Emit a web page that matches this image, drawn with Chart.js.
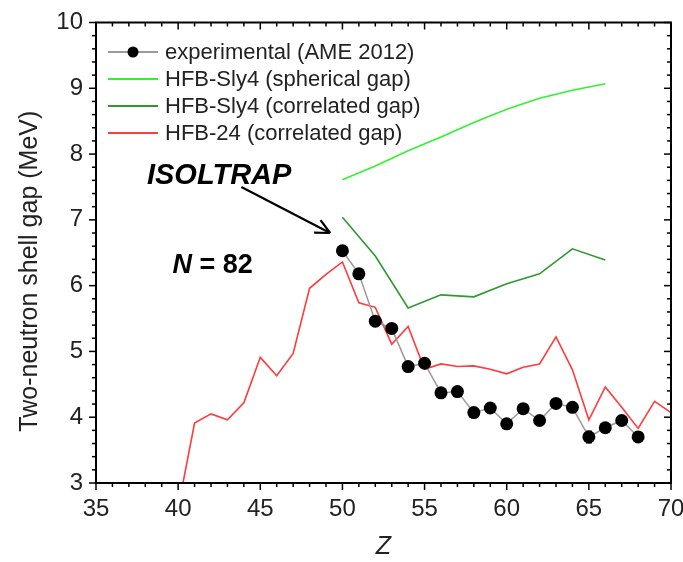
<!DOCTYPE html>
<html><head><meta charset="utf-8">
<script src="https://cdn.jsdelivr.net/npm/chart.js@4/dist/chart.umd.min.js"></script>
<style>html,body{margin:0;padding:0;background:#fff}</style>
</head><body>
<canvas id="c" width="683" height="562"></canvas>
<script>
// ---- data ----
const expZ   = [50,51,52,53,54,55,56,57,58,59,60,61,62,63,64,65,66,67,68];
const expGap = [6.53,6.18,5.46,5.35,4.77,4.82,4.37,4.39,4.07,4.14,3.90,4.13,3.95,4.21,4.15,3.70,3.84,3.95,3.70];
const expErr = [0,0,0,0,0,0,0,0,0,0,0,0,0,0,0,0.09,0,0,0];
const slyZ = [50,52,54,56,58,60,62,64,66];
const slySpherical  = [7.61,7.82,8.05,8.26,8.48,8.68,8.85,8.97,9.07];
const slyCorrelated = [7.04,6.45,5.66,5.86,5.83,6.03,6.18,6.56,6.39];
const hfb24Z = [40,41,42,43,44,45,46,47,48,49,50,51,52,53,54,55,56,57,58,59,60,61,62,63,64,65,66,67,68,69,70];
const hfb24Gap = [2.62,3.91,4.05,3.96,4.22,4.91,4.63,4.97,5.96,6.17,6.36,5.74,5.67,5.11,5.38,4.73,4.81,4.77,4.78,4.73,4.66,4.76,4.81,5.22,4.72,3.96,4.46,4.15,3.83,4.24,4.07];
const xTicks = [35,40,45,50,55,60,65,70];
const yTicks = [3,4,5,6,7,8,9,10];
const seriesLabels = ['experimental (AME 2012)','HFB-Sly4 (spherical gap)','HFB-Sly4 (correlated gap)','HFB-24 (correlated gap)'];
const yAxisTitle = 'Two-neutron shell gap (MeV)';
const xAxisTitle = 'Z';

const FONT = "'Liberation Sans', Arial, Helvetica, sans-serif";
Chart.defaults.font.family = FONT;

const pts = (xs, ys) => xs.map((v,i)=>({x:v, y:ys[i]}));

const datasets = [
  {label: seriesLabels[3], data: pts(hfb24Z,hfb24Gap), borderColor:'#ff3b3b', borderWidth:1.6, pointRadius:0, order:4},
  {label: seriesLabels[2], data: pts(slyZ,slyCorrelated), borderColor:'#2e9a2e', borderWidth:1.6, pointRadius:0, order:3},
  {label: seriesLabels[1], data: pts(slyZ,slySpherical), borderColor:'#33f033', borderWidth:1.6, pointRadius:0, order:2},
  {label: seriesLabels[0], data: pts(expZ,expGap), borderColor:'#9a9a9a', borderWidth:1.5,
   pointRadius:6.5, pointBackgroundColor:'#000', pointBorderColor:'#000', pointBorderWidth:0, order:1}
];

const annot = {
  isoltrap: {text:'ISOLTRAP', z:38.1, v:7.66},
  arrowFrom: {z:43.85, v:7.50}, arrowTo: {z:49.25, v:6.80},
  n82: {z:39.65, v:6.31},
  yTitleAt: 6.22
};

const decor = {
  id:'decor',
  beforeDatasetsDraw(chart){
    const {ctx, scales:{x,y}} = chart;
    ctx.save(); ctx.strokeStyle='#000'; ctx.lineWidth=1.2;
    expZ.forEach((z,i)=>{ if(expErr[i]>0){
      const px=x.getPixelForValue(z), y1=y.getPixelForValue(expGap[i]-expErr[i]), y2=y.getPixelForValue(expGap[i]+expErr[i]);
      ctx.beginPath(); ctx.moveTo(px,y1); ctx.lineTo(px,y2);
      ctx.moveTo(px-3,y1); ctx.lineTo(px+3,y1); ctx.moveTo(px-3,y2); ctx.lineTo(px+3,y2); ctx.stroke(); }});
    ctx.restore();
  },
  afterDraw(chart){
    const {ctx, chartArea:a, scales:{x,y}} = chart;
    const line=(x1,y1,x2,y2)=>{ctx.beginPath();ctx.moveTo(x1,y1);ctx.lineTo(x2,y2);ctx.stroke();};
    ctx.save();
    ctx.strokeStyle='#000';
    ctx.lineWidth=1.5;
    for(let v=35; v<=70; v++){
      const px=x.getPixelForValue(v); const L=(v%5===0)?7:4;
      line(px,a.bottom,px,a.bottom+L);
      line(px,a.top,px,a.top+L);
    }
    for(let i=0;i<=35;i++){
      const py=y.getPixelForValue(3+i*0.2); const L=(i%5===0)?7:4;
      line(a.left-L,py,a.left,py);
      line(a.right-L,py,a.right,py);
    }
    ctx.lineWidth=2;
    ctx.strokeRect(a.left,a.top,a.right-a.left,a.bottom-a.top);

    // y axis title
    ctx.save();
    ctx.translate(30, y.getPixelForValue(annot.yTitleAt));
    ctx.rotate(-Math.PI/2);
    ctx.font = "25px "+FONT; ctx.fillStyle='#222'; ctx.textAlign='center'; ctx.textBaseline='middle';
    ctx.fillText(yAxisTitle, 0, 0);
    ctx.restore();

    // legend
    const ds = chart.data.datasets;
    const order = [3,2,1,0];
    const rowY=[52,79,106,133];
    ctx.font = "22px "+FONT; ctx.textBaseline='middle'; ctx.textAlign='left';
    order.forEach((di,r)=>{
      const d=ds[di]; const yy=rowY[r];
      ctx.strokeStyle=d.borderColor; ctx.lineWidth=d.borderWidth+0.3;
      line(108,yy,158,yy);
      if(d.pointRadius>0){ctx.fillStyle='#000';ctx.beginPath();ctx.arc(133,yy,5.5,0,Math.PI*2);ctx.fill();}
      ctx.fillStyle='#222';
      ctx.fillText(d.label,165,yy+1);
    });

    // annotations
    ctx.fillStyle='#000';
    ctx.font = "italic bold 29px "+FONT;
    ctx.fillText(annot.isoltrap.text, x.getPixelForValue(annot.isoltrap.z), y.getPixelForValue(annot.isoltrap.v));
    const ax1=x.getPixelForValue(annot.arrowFrom.z), ay1=y.getPixelForValue(annot.arrowFrom.v);
    const ax2=x.getPixelForValue(annot.arrowTo.z), ay2=y.getPixelForValue(annot.arrowTo.v);
    ctx.strokeStyle='#000'; ctx.lineWidth=2.2;
    line(ax1,ay1,ax2,ay2);
    const ang=Math.atan2(ay2-ay1,ax2-ax1), h=16;
    line(ax2,ay2,ax2-h*Math.cos(ang-0.45),ay2-h*Math.sin(ang-0.45));
    line(ax2,ay2,ax2-h*Math.cos(ang+0.45),ay2-h*Math.sin(ang+0.45));
    const nx=x.getPixelForValue(annot.n82.z), ny=y.getPixelForValue(annot.n82.v);
    ctx.font = "italic bold 27px "+FONT;
    ctx.fillText('N', nx, ny);
    const w=ctx.measureText('N').width;
    ctx.font = "bold 27px "+FONT;
    ctx.fillText(' = 82', nx+w, ny);
    ctx.restore();
  }
};

new Chart(document.getElementById('c'), {
  type:'line',
  data:{datasets},
  options:{
    responsive:false, animation:false, devicePixelRatio:1,
    layout:{padding:{top:22.5,right:12,left:0,bottom:0}},
    plugins:{legend:{display:false}, tooltip:{enabled:false}},
    elements:{line:{tension:0}},
    scales:{
      x:{type:'linear', min:35, max:70,
         afterBuildTicks: s=>{s.ticks = xTicks.map(v=>({value:v}));},
         ticks:{font:{size:24}, color:'#222', padding:12, maxRotation:0},
         grid:{display:false, drawTicks:false}, border:{display:false},
         title:{display:true, text:xAxisTitle, font:{size:25, style:'italic'}, color:'#222', padding:{top:0,bottom:0}},
         afterFit: s=>{s.height=79; s.paddingLeft=0; s.paddingRight=0;}},
      y:{type:'linear', min:3, max:10,
         afterBuildTicks: s=>{s.ticks = yTicks.map(v=>({value:v}));},
         ticks:{font:{size:24}, color:'#222', padding:13},
         grid:{display:false, drawTicks:false}, border:{display:false},
         title:{display:false},
         afterFit: s=>{s.width=96; s.paddingTop=0; s.paddingBottom=0;}}
    }
  },
  plugins:[decor]
});
</script>
</body></html>
